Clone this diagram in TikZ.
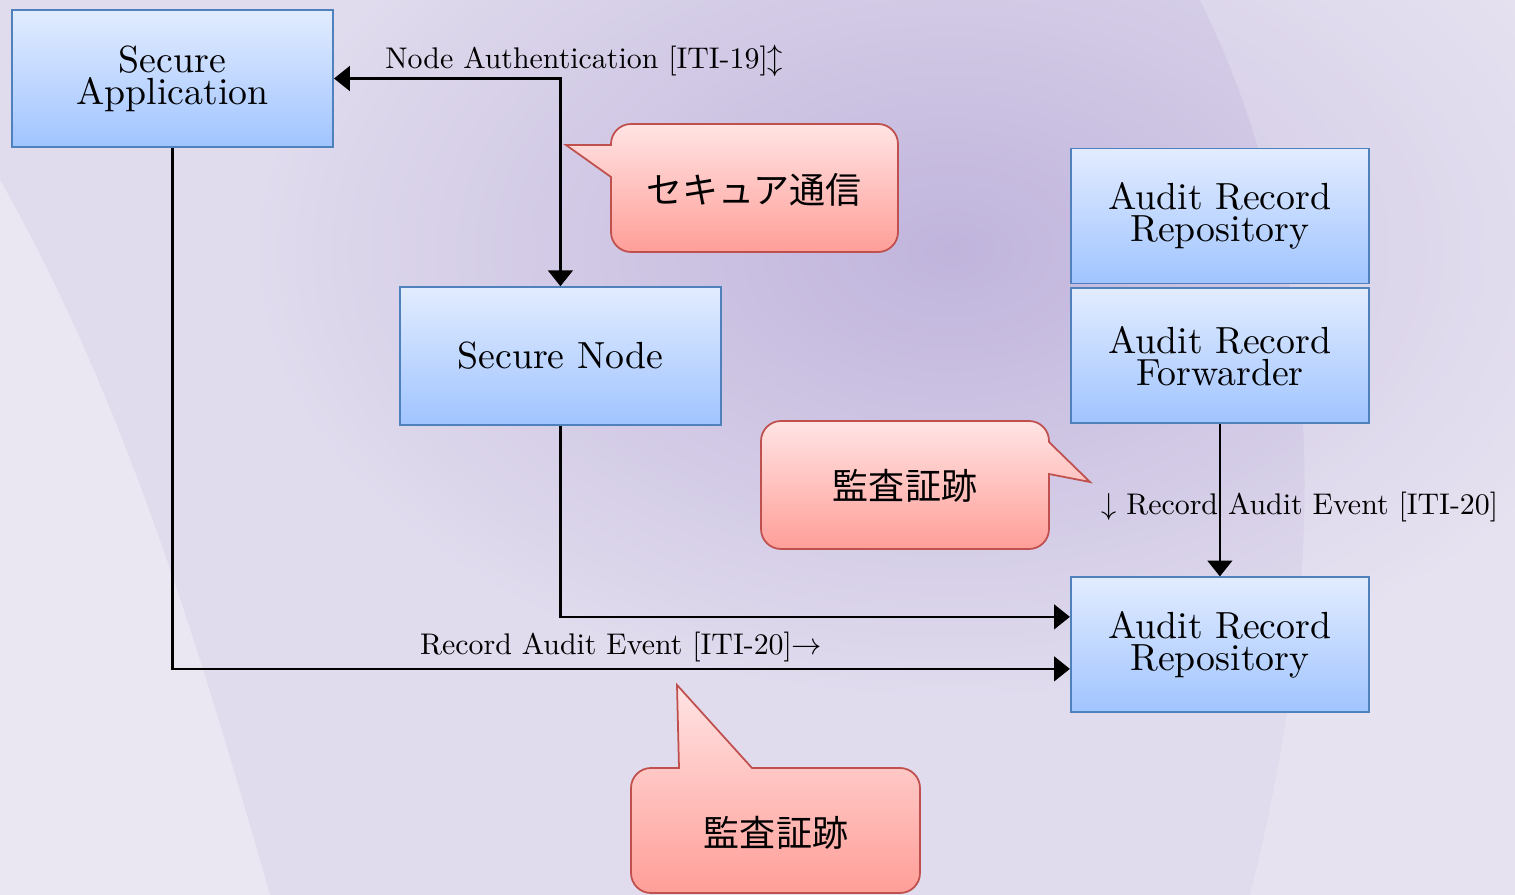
\documentclass[tikz,border=0pt]{standalone}
\usepackage{fontspec}
\setmainfont{lmroman10-regular.otf}
\newfontfamily\jpfont{Noto Sans CJK JP}
\usepackage{tikz}
\usetikzlibrary{positioning, arrows.meta}
\definecolor{boxtop}{RGB}{226,236,255}
\definecolor{boxbottom}{RGB}{160,196,255}
\definecolor{boxline}{RGB}{79,129,189}
\definecolor{bubbletop}{RGB}{255,228,228}
\definecolor{bubblebottom}{RGB}{255,158,152}
\definecolor{bubbleline}{RGB}{192,80,77}
\definecolor{bgbase}{RGB}{224,219,237}
\definecolor{bgpurple}{RGB}{192,180,220}
\tikzstyle{block} = [rectangle, minimum width=6.42cm, minimum height=2.75cm, align=center, font=\fontsize{21.5}{18.2}\selectfont, draw=boxline, line width=1.1pt, top color=boxtop, bottom color=boxbottom]
\tikzstyle{audit} = [block, minimum width=5.96cm, minimum height=2.7cm]
\tikzstyle{bubble} = [draw=bubbleline, line width=1pt, top color=bubbletop, bottom color=bubblebottom]
\tikzstyle{bubbletext} = [font=\jpfont\fontsize{20.5}{24}\selectfont]
\tikzstyle{msg} = [inner sep=0pt, font=\fontsize{17}{20}\selectfont]
\tikzstyle{arrow} = [line width=1.5pt, -{Triangle[length=9pt,width=14pt]}]
\tikzstyle{biarrow} = [line width=1.5pt, {Triangle[length=9pt,width=14pt]}-{Triangle[length=9pt,width=14pt]}]

\begin{document}
\begin{tikzpicture}[node distance=2cm]
    \useasboundingbox (0,0) rectangle (30.3,-17.9);

    % background
    \begin{scope}
        \clip (0,0) rectangle (30.3,-17.9);
        \fill [bgbase] (0,0) rectangle (30.3,-17.9);
        \shade [inner color=bgpurple, outer color=bgbase] (19,-5) ellipse (14cm and 9cm);
        \fill [white, opacity=0.35] (0,-3.6) .. controls (2.5,-8) and (4,-13) .. (5.4,-17.9) -- (0,-17.9) -- cycle;
        \fill [white, opacity=0.2] (24,0) -- (30.3,0) -- (30.3,-17.9) -- (25,-17.9) .. controls (27,-10) and (26,-4) .. cycle;
    \end{scope}

    \node (sec-app) [block] at (3.45,-1.57) {Secure\\Application};
    \node (sec-node) [block, below right=2.76cm and 1.30cm of sec-app] {Secure Node};

    \node (arr-fwd) [audit, right=6.96cm of sec-node] {Audit Record\\Forwarder};
    \node (arr-top) [audit, above=0.06cm of arr-fwd] {Audit Record\\Repository};
    \node (arr-bottom) [audit, below=3.04cm of arr-fwd] {Audit Record\\Repository};

    \draw [biarrow] (sec-app.east) -| node (iti19) [msg, pos=0, anchor=base west, xshift=1cm, yshift=0.19cm] {Node Authentication [ITI-19]$\updownarrow$} (sec-node.north);

    \draw [arrow] (sec-node.south) |- ([yshift=0.56cm]arr-bottom.west);
    \draw [arrow] (sec-app.south) |- node (iti20-left) [msg, pos=0.75, anchor=base, yshift=0.29cm] {Record Audit Event [ITI-20]$\rightarrow$} ([yshift=-0.48cm]arr-bottom.west);
    \draw [arrow] (arr-fwd.south) -- node (iti20-right) [msg, pos=0.59, anchor=base west, xshift=-2.4cm] {$\downarrow$ Record Audit Event [ITI-20]} (arr-bottom.north);

    % callouts
    \draw [bubble] (12.22,-2.90) -- (12.22,-2.88) arc[start angle=180, end angle=90, radius=0.4] -- (17.56,-2.48) arc[start angle=90, end angle=0, radius=0.4] -- (17.96,-4.64) arc[start angle=0, end angle=-90, radius=0.4] -- (12.62,-5.04) arc[start angle=270, end angle=180, radius=0.4] -- (12.22,-3.54) -- (11.32,-2.90) -- cycle;
    \node (secure-comm) [bubbletext] at (15.08,-3.80) {セキュア通信};

    \draw [bubble] (15.62,-8.42) -- (20.58,-8.42) arc[start angle=90, end angle=0, radius=0.4] -- (20.98,-8.84) -- (21.80,-9.64) -- (20.98,-9.48) -- (20.98,-10.58) arc[start angle=0, end angle=-90, radius=0.4] -- (15.62,-10.98) arc[start angle=270, end angle=180, radius=0.4] -- (15.22,-8.82) arc[start angle=180, end angle=90, radius=0.4] -- cycle;
    \node (audit-trail-r) [bubbletext] at (18.10,-9.72) {監査証跡};

    \draw [bubble] (12.62,-15.76) arc[start angle=180, end angle=90, radius=0.4] -- (13.58,-15.36) -- (13.54,-13.70) -- (15.04,-15.36) -- (18.00,-15.36) arc[start angle=90, end angle=0, radius=0.4] -- (18.40,-17.46) arc[start angle=0, end angle=-90, radius=0.4] -- (13.02,-17.86) arc[start angle=270, end angle=180, radius=0.4] -- cycle;
    \node (audit-trail-b) [bubbletext] at (15.52,-16.66) {監査証跡};
\end{tikzpicture}
\end{document}
